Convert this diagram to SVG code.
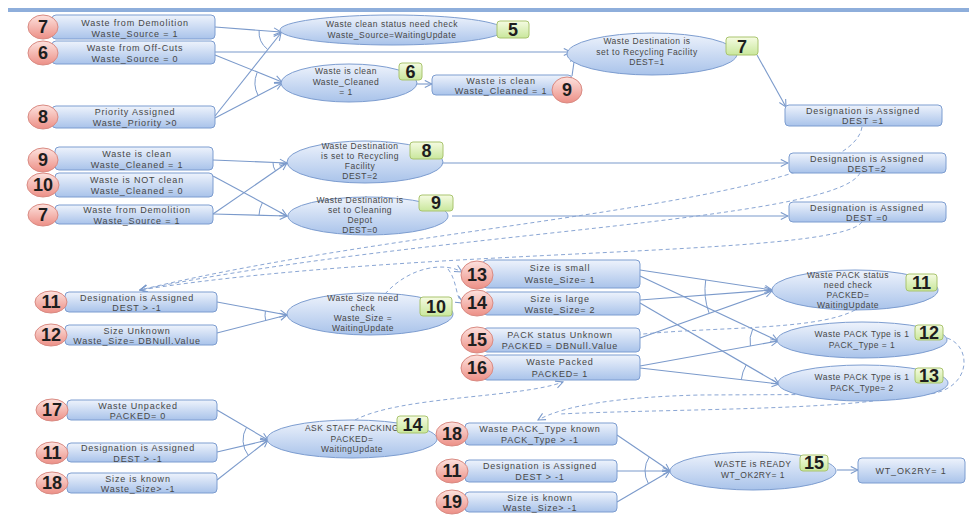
<svg xmlns="http://www.w3.org/2000/svg" width="969" height="517" viewBox="0 0 969 517">
<defs>
<linearGradient id="gb" x1="0" y1="0" x2="0" y2="1"><stop offset="0" stop-color="#eef3fc"/><stop offset="1" stop-color="#a9c3ea"/></linearGradient>
<linearGradient id="gr" x1="0" y1="0" x2="0" y2="1"><stop offset="0" stop-color="#fde2de"/><stop offset="1" stop-color="#ec8f86"/></linearGradient>
<linearGradient id="gg" x1="0" y1="0" x2="0" y2="1"><stop offset="0" stop-color="#f5fbe2"/><stop offset="1" stop-color="#c9e79c"/></linearGradient>
<marker id="ar" viewBox="0 0 10 10" refX="9" refY="5" markerWidth="9" markerHeight="9" markerUnits="userSpaceOnUse" orient="auto"><path d="M1,1 L9,5 L1,9" fill="none" stroke="#7b9acb" stroke-width="1.2"/></marker>
<style>
.r{fill:url(#gb);stroke:#7d9dd0;stroke-width:1}
.e{fill:url(#gb);stroke:#7d9dd0;stroke-width:1}
.n{fill:url(#gr);stroke:#d98a82;stroke-width:1}
.g{fill:url(#gg);stroke:#a9c46e;stroke-width:1}
.t{font-family:"Liberation Sans",Arial,sans-serif;font-size:9px;letter-spacing:0.8px;fill:#474747;text-anchor:middle}
.s{font-family:"Liberation Sans",Arial,sans-serif;font-size:8.5px;letter-spacing:0.5px;fill:#474747;text-anchor:middle}
.nt{font-family:"Liberation Sans",Arial,sans-serif;font-size:18px;font-weight:bold;fill:#1e1e1e;text-anchor:middle}
.c{fill:none;stroke:#7b9acb;stroke-width:1.1;marker-end:url(#ar)}
.a{fill:none;stroke:#7b9acb;stroke-width:1}
.d{fill:none;stroke:#8aa6d4;stroke-width:1;stroke-dasharray:4 3}
.dm{fill:none;stroke:#8aa6d4;stroke-width:1;stroke-dasharray:4 3;marker-end:url(#ar)}
</style>
</defs>
<rect x="8" y="8" width="961" height="4" fill="#8eaedb"/>
<g id="connectors">
<path class="c" d="M215,27 L281,32"/>
<path class="c" d="M215,116 L281,33"/>
<path class="c" d="M215,52 L571,52"/>
<path class="c" d="M215,55 L282,82"/>
<path class="c" d="M215,118 L282,83"/>
<path class="a" d="M259.1,30.3 A22,22 0 0 0 267.4,49.2"/>
<path class="a" d="M257.1,72.6 A27,27 0 0 0 258.1,95.5"/>
<path class="c" d="M417,84 L432,84"/>
<path class="c" d="M572,76 L575,55"/>
<path class="c" d="M757,55 L786,107"/>
<path class="c" d="M213,160 L287,163"/>
<path class="c" d="M213,214 L287,163"/>
<path class="c" d="M213,176 L287,216"/>
<path class="c" d="M213,214 L287,216"/>
<path class="a" d="M273,162.4 A14,14 0 0 0 275.5,170.9"/>
<path class="a" d="M262.4,202.7 A28,28 0 0 0 259,215.2"/>
<path class="c" d="M443,163 L788,163"/>
<path class="c" d="M452,216 L788,216"/>
<path class="dm" d="M862,127 C850,205 420,222 140,290"/>
<path class="dm" d="M860,173 C835,222 420,232 140,290"/>
<path class="dm" d="M862,222 C835,258 420,246 140,290"/>
<path class="c" d="M217,302 L287,315"/>
<path class="c" d="M217,333 L287,315"/>
<path class="a" d="M265.4,311 A22,22 0 0 0 265.7,320.5"/>
<path class="dm" d="M385,294 C410,266 445,262 462,272"/>
<path class="dm" d="M448,269 C458,282 455,298 463,303"/>
<path class="c" d="M640,270 L772,290"/>
<path class="c" d="M640,300 L772,290"/>
<path class="c" d="M640,338 L772,291"/>
<path class="c" d="M640,276 L778,341"/>
<path class="c" d="M640,366 L778,341"/>
<path class="c" d="M640,303 L779,384"/>
<path class="c" d="M640,368 L779,384"/>
<path class="a" d="M705.7,280 A67,67 0 0 0 709,312.9"/>
<path class="a" d="M752.7,329.1 A28,28 0 0 0 750.4,346"/>
<path class="a" d="M746.2,364.9 A38,38 0 0 0 741.3,379.7"/>
<path class="dm" d="M855,310 C815,332 700,326 626,336"/>
<path class="dm" d="M947,338 C972,346 972,388 930,394 L700,395 C620,397 565,405 538,420"/>
<path class="d" d="M873,401 C800,410 640,410 560,414"/>
<path class="dm" d="M355,420 C400,396 520,398 563,382"/>
<path class="c" d="M217,410 L268,440"/>
<path class="c" d="M217,452 L268,440"/>
<path class="c" d="M217,480 L268,440"/>
<path class="a" d="M246.5,427.3 A25,25 0 0 0 248.3,455.4"/>
<path class="c" d="M617,435 L670,471"/>
<path class="c" d="M617,471 L670,471"/>
<path class="c" d="M617,502 L670,471"/>
<path class="a" d="M649.3,457 A25,25 0 0 0 648.4,483.6"/>
<path class="c" d="M837,470 L858,470"/>
</g>
<g id="n7a"><rect class="r" x="52" y="15" width="163" height="24" rx="4"/><ellipse class="n" cx="43" cy="27" rx="15" ry="12"/><text class="nt" x="43" y="33">7</text><text class="t" x="135" y="25.5">Waste from Demolition</text><text class="t" x="135" y="36.5">Waste_Source = 1</text></g>
<g id="n6a"><rect class="r" x="52" y="41" width="163" height="23" rx="4"/><ellipse class="n" cx="43" cy="53" rx="15" ry="12"/><text class="nt" x="43" y="59">6</text><text class="t" x="135" y="50.5">Waste from Off-Cuts</text><text class="t" x="135" y="61.5">Waste_Source = 0</text></g>
<g id="n8a"><rect class="r" x="52" y="106" width="163" height="22" rx="4"/><ellipse class="n" cx="43" cy="117" rx="15" ry="12"/><text class="nt" x="43" y="123">8</text><text class="t" x="135" y="115">Priority Assigned</text><text class="t" x="135" y="126">Waste_Priority &gt;0</text></g>
<g id="e5"><ellipse class="e" cx="392" cy="30" rx="112" ry="15"/><text class="s" x="392" y="27">Waste clean status need check</text><text class="s" x="392" y="38">Waste_Source=WaitingUpdate</text><rect class="g" x="497" y="21" width="32" height="17" rx="3"/><text class="nt" x="513" y="36">5</text></g>
<g id="e6"><ellipse class="e" cx="349" cy="83" rx="68" ry="19"/><text class="s" x="346" y="74">Waste is clean</text><text class="s" x="346" y="84.5">Waste_Cleaned</text><text class="s" x="346" y="95">= 1</text><rect class="g" x="399" y="63" width="23" height="17" rx="3"/><text class="nt" x="410.5" y="78">6</text></g>
<g id="n9a"><rect class="r" x="432" y="75" width="140" height="20" rx="4"/><text class="t" x="501" y="83.5">Waste is clean</text><text class="t" x="501" y="94">Waste_Cleaned = 1</text><ellipse class="n" cx="567" cy="90" rx="15" ry="13"/><text class="nt" x="567" y="96">9</text></g>
<g id="e7"><ellipse class="e" cx="652" cy="54" rx="85" ry="21"/><text class="s" x="647" y="44">Waste Destination is</text><text class="s" x="647" y="54.5">set to Recycling Facility</text><text class="s" x="647" y="65">DEST=1</text><rect class="g" x="726" y="37" width="32" height="18" rx="3"/><text class="nt" x="742" y="53">7</text></g>
<g id="d1"><rect class="r" x="785" y="105" width="157" height="21" rx="4"/><text class="t" x="863" y="113.5">Designation is Assigned</text><text class="t" x="863" y="124">DEST =1</text></g>
<g id="n9b"><rect class="r" x="55" y="147" width="158" height="23" rx="4"/><ellipse class="n" cx="43" cy="160" rx="15" ry="12"/><text class="nt" x="43" y="166">9</text><text class="t" x="137" y="156.5">Waste is clean</text><text class="t" x="137" y="167.5">Waste_Cleaned = 1</text></g>
<g id="n10"><rect class="r" x="55" y="173" width="158" height="24" rx="4"/><ellipse class="n" cx="43" cy="185" rx="16" ry="12"/><text class="nt" x="43" y="191">10</text><text class="t" x="137" y="182.5">Waste is NOT clean</text><text class="t" x="137" y="193.5">Waste_Cleaned = 0</text></g>
<g id="n7b"><rect class="r" x="55" y="205" width="158" height="19" rx="4"/><ellipse class="n" cx="43" cy="215" rx="15" ry="11"/><text class="nt" x="43" y="221">7</text><text class="t" x="137" y="213">Waste from Demolition</text><text class="t" x="137" y="223.5">Waste_Source = 1</text></g>
<g id="e8"><ellipse class="e" cx="365" cy="162" rx="78" ry="21"/><text class="s" x="360" y="148.5">Waste Destination</text><text class="s" x="360" y="158.5">is set to Recycling</text><text class="s" x="360" y="168.5">Facility</text><text class="s" x="360" y="178.5">DEST=2</text><rect class="g" x="410" y="142" width="33" height="17" rx="3"/><text class="nt" x="426.5" y="157">8</text></g>
<g id="e9"><ellipse class="e" cx="368" cy="216" rx="80" ry="19"/><text class="s" x="360" y="203">Waste Destination is</text><text class="s" x="360" y="213">set to Cleaning</text><text class="s" x="360" y="223">Depot</text><text class="s" x="360" y="233">DEST=0</text><rect class="g" x="419" y="195" width="34" height="16" rx="3"/><text class="nt" x="436" y="209">9</text></g>
<g id="d2"><rect class="r" x="789" y="153" width="157" height="20" rx="4"/><text class="t" x="867" y="161.5">Designation is Assigned</text><text class="t" x="867" y="172">DEST=2</text></g>
<g id="d0"><rect class="r" x="789" y="202" width="157" height="20" rx="4"/><text class="t" x="867" y="210.5">Designation is Assigned</text><text class="t" x="867" y="221">DEST =0</text></g>
<g id="n11a"><rect class="r" x="65" y="292" width="152" height="20" rx="4"/><ellipse class="n" cx="51" cy="302" rx="16" ry="11"/><text class="nt" x="51" y="308">11</text><text class="t" x="137" y="300.5">Designation is Assigned</text><text class="t" x="137" y="311">DEST &gt; -1</text></g>
<g id="n12"><rect class="r" x="65" y="325" width="152" height="20" rx="4"/><ellipse class="n" cx="51" cy="335" rx="16" ry="11"/><text class="nt" x="51" y="341">12</text><text class="t" x="137" y="333.5">Size Unknown</text><text class="t" x="137" y="344">Waste_Size= DBNull.Value</text></g>
<g id="e10"><ellipse class="e" cx="370" cy="314" rx="83" ry="21"/><text class="s" x="363" y="301">Waste Size need</text><text class="s" x="363" y="311">check</text><text class="s" x="363" y="321">Waste_Size =</text><text class="s" x="363" y="331">WaitingUpdate</text><rect class="g" x="420" y="297" width="32" height="19" rx="3"/><text class="nt" x="436" y="313">10</text></g>
<g id="n13"><rect class="r" x="483" y="260" width="157" height="28" rx="4"/><ellipse class="n" cx="477" cy="275" rx="16" ry="14"/><text class="nt" x="477" y="281">13</text><text class="t" x="560" y="271">Size is small</text><text class="t" x="560" y="283">Waste_Size= 1</text></g>
<g id="n14"><rect class="r" x="483" y="292" width="157" height="23" rx="4"/><ellipse class="n" cx="477" cy="303" rx="16" ry="13"/><text class="nt" x="477" y="309">14</text><text class="t" x="560" y="301.5">Size is large</text><text class="t" x="560" y="312.5">Waste_Size= 2</text></g>
<g id="n15"><rect class="r" x="483" y="328" width="157" height="24" rx="4"/><ellipse class="n" cx="477" cy="340" rx="16" ry="13"/><text class="nt" x="477" y="346">15</text><text class="t" x="560" y="337.5">PACK status Unknown</text><text class="t" x="560" y="348.5">PACKED = DBNull.Value</text></g>
<g id="n16"><rect class="r" x="483" y="355" width="157" height="25" rx="4"/><ellipse class="n" cx="477" cy="368" rx="16" ry="13"/><text class="nt" x="477" y="374">16</text><text class="t" x="560" y="365">Waste Packed</text><text class="t" x="560" y="376.5">PACKED= 1</text></g>
<g id="e11"><ellipse class="e" cx="855" cy="290" rx="83" ry="20"/><text class="s" x="848" y="278">Waste PACK status</text><text class="s" x="848" y="288">need check</text><text class="s" x="848" y="298">PACKED=</text><text class="s" x="848" y="308">WaitingUpdate</text><rect class="g" x="906" y="274" width="31" height="17" rx="3"/><text class="nt" x="921.5" y="289">11</text></g>
<g id="e12"><ellipse class="e" cx="862" cy="340" rx="85" ry="18"/><text class="s" x="862" y="337">Waste PACK Type is 1</text><text class="s" x="862" y="348">PACK_Type = 1</text><rect class="g" x="915" y="325" width="28" height="15" rx="3"/><text class="nt" x="929" y="339">12</text></g>
<g id="e13"><ellipse class="e" cx="863" cy="383" rx="85" ry="18"/><text class="s" x="862" y="379.5">Waste PACK Type is 1</text><text class="s" x="862" y="390.5">PACK_Type= 2</text><rect class="g" x="915" y="368" width="28" height="15" rx="3"/><text class="nt" x="929" y="382">13</text></g>
<g id="n17"><rect class="r" x="67" y="400" width="150" height="20" rx="4"/><ellipse class="n" cx="52" cy="410" rx="16" ry="11"/><text class="nt" x="52" y="416">17</text><text class="t" x="138" y="408.5">Waste Unpacked</text><text class="t" x="138" y="419">PACKED= 0</text></g>
<g id="n11b"><rect class="r" x="67" y="443" width="150" height="19" rx="4"/><ellipse class="n" cx="52" cy="453" rx="16" ry="11"/><text class="nt" x="52" y="459">11</text><text class="t" x="138" y="451">Designation is Assigned</text><text class="t" x="138" y="461.5">DEST &gt; -1</text></g>
<g id="n18a"><rect class="r" x="67" y="473" width="150" height="20" rx="4"/><ellipse class="n" cx="52" cy="483" rx="16" ry="11"/><text class="nt" x="52" y="489">18</text><text class="t" x="138" y="481.5">Size is known</text><text class="t" x="138" y="492">Waste_Size&gt; -1</text></g>
<g id="e14"><ellipse class="e" cx="352" cy="439" rx="85" ry="19"/><text class="s" x="352" y="431">ASK STAFF PACKING</text><text class="s" x="352" y="441.5">PACKED=</text><text class="s" x="352" y="452">WaitingUpdate</text><rect class="g" x="397" y="416" width="31" height="17" rx="3"/><text class="nt" x="412.5" y="431">14</text></g>
<g id="n18b"><rect class="r" x="465" y="423" width="152" height="22" rx="4"/><ellipse class="n" cx="452" cy="434" rx="16" ry="12"/><text class="nt" x="452" y="440">18</text><text class="t" x="540" y="432">Waste PACK_Type known</text><text class="t" x="540" y="443">PACK_Type &gt; -1</text></g>
<g id="n11c"><rect class="r" x="465" y="460" width="152" height="22" rx="4"/><ellipse class="n" cx="452" cy="471" rx="16" ry="12"/><text class="nt" x="452" y="477">11</text><text class="t" x="540" y="469">Designation is Assigned</text><text class="t" x="540" y="480">DEST &gt; -1</text></g>
<g id="n19"><rect class="r" x="465" y="492" width="152" height="20" rx="4"/><ellipse class="n" cx="452" cy="502" rx="16" ry="12"/><text class="nt" x="452" y="508">19</text><text class="t" x="540" y="500.5">Size is known</text><text class="t" x="540" y="511">Waste_Size&gt; -1</text></g>
<g id="e15"><ellipse class="e" cx="753" cy="471" rx="83" ry="19"/><text class="s" x="753" y="467">WASTE is READY</text><text class="s" x="753" y="478">WT_OK2RY= 1</text><rect class="g" x="800" y="455" width="28" height="16" rx="3"/><text class="nt" x="814" y="469">15</text></g>
<g id="nwt"><rect class="r" x="858" y="458" width="107" height="25" rx="4"/><text class="t" x="911" y="474">WT_OK2RY= 1</text></g>
</svg>
